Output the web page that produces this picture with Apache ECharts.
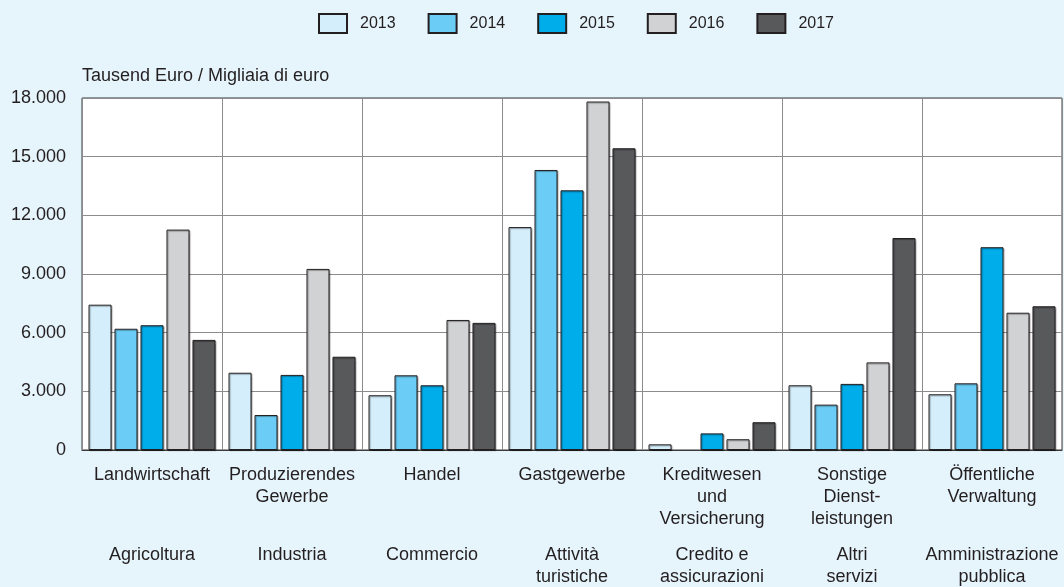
<!DOCTYPE html>
<html>
<head>
<meta charset="utf-8">
<script src="https://cdn.jsdelivr.net/npm/echarts@6/dist/echarts.min.js"></script>
<style>
html,body{margin:0;padding:0;background:#e6f4fc;}
#chart{width:1064px;height:587px;}
</style>
</head>
<body>
<div id="chart"></div>
<script>
const categoriesDE = ['Landwirtschaft', 'Produzierendes\nGewerbe', 'Handel', 'Gastgewerbe', 'Kreditwesen\nund\nVersicherung', 'Sonstige\nDienst-\nleistungen', 'Öffentliche\nVerwaltung'];
const categoriesIT = ['Agricoltura', 'Industria', 'Commercio', 'Attività\nturistiche', 'Credito e\nassicurazioni', 'Altri\nservizi', 'Amministrazione\npubblica'];
const years = ['2013', '2014', '2015', '2016', '2017'];
const v2013 = [7430, 3950, 2800, 11400, 290, 3310, 2850];
const v2014 = [6200, 1790, 3820, 14320, 0, 2320, 3410];
const v2015 = [6380, 3840, 3310, 13280, 850, 3380, 10370];
const v2016 = [11270, 9260, 6650, 17820, 550, 4480, 7020];
const v2017 = [5630, 4770, 6500, 15430, 1420, 10840, 7350];
const yTicks = [0, 3000, 6000, 9000, 12000, 15000, 18000];
const colors = ['#d4eefb', '#6bcdf5', '#00adeb', '#d1d2d4', '#58595b'];
const axisName = 'Tausend Euro / Migliaia di euro';

const seriesValues = [v2013, v2014, v2015, v2016, v2017];
const fmt = v => String(v).replace(/\B(?=(\d{3})+(?!\d))/g, '.');
const font = "'Liberation Sans', Arial, sans-serif";

const chart = echarts.init(document.getElementById('chart'));
chart.setOption({
  backgroundColor: '#e6f4fc',
  animation: false,
  textStyle: { fontFamily: font },
  legend: {
    left: 313, top: 8, icon: 'rect',
    itemWidth: 28, itemHeight: 19, itemGap: 32,
    textStyle: { fontFamily: font, fontSize: 16, color: '#231f20', padding: [0, 0, 0, 8] },
    data: years
  },
  grid: {
    left: 82, right: 2, top: 98, bottom: 137,
    show: true, backgroundColor: '#ffffff', borderColor: '#3a3a3a', borderWidth: 1,
    containLabel: false, outerBoundsMode: 'none'
  },
  xAxis: [{
    type: 'category', data: categoriesDE, position: 'bottom',
    axisLine: { show: true, lineStyle: { color: '#3a3a3a' } },
    axisTick: { show: false },
    splitLine: { show: true, lineStyle: { color: '#8c8c8c', width: 1 } },
    axisLabel: { fontSize: 18, color: '#231f20', margin: 14, lineHeight: 22, interval: 0, fontFamily: font }
  }, {
    type: 'category', data: categoriesIT, position: 'bottom', offset: 80,
    axisLine: { show: false }, axisTick: { show: false }, splitLine: { show: false },
    axisLabel: { fontSize: 18, color: '#231f20', margin: 14, lineHeight: 22, interval: 0, fontFamily: font }
  }],
  yAxis: {
    type: 'value', min: yTicks[0], max: yTicks[yTicks.length - 1], interval: yTicks[1] - yTicks[0],
    name: axisName, nameLocation: 'end', nameGap: 22,
    nameTextStyle: { fontSize: 18, color: '#231f20', align: 'left', verticalAlign: 'middle', fontFamily: font },
    axisLine: { show: false }, axisTick: { show: false },
    splitLine: { show: true, lineStyle: { color: '#8c8c8c', width: 1 } },
    axisLabel: { fontSize: 18, color: '#231f20', margin: 16, formatter: v => fmt(v), fontFamily: font }
  },
  series: years.map((y, i) => ({
    name: y, type: 'bar', xAxisIndex: 0,
    data: seriesValues[i].map(v => (v === 0 ? '-' : v)),
    barWidth: 23, barGap: '13%',
    itemStyle: {
      color: colors[i], borderColor: '#231f20', borderWidth: 1,
      shadowColor: 'rgba(0,0,0,0.35)', shadowOffsetX: 1, shadowOffsetY: 1, shadowBlur: 1
    }
  }))
});
</script>
</body>
</html>
